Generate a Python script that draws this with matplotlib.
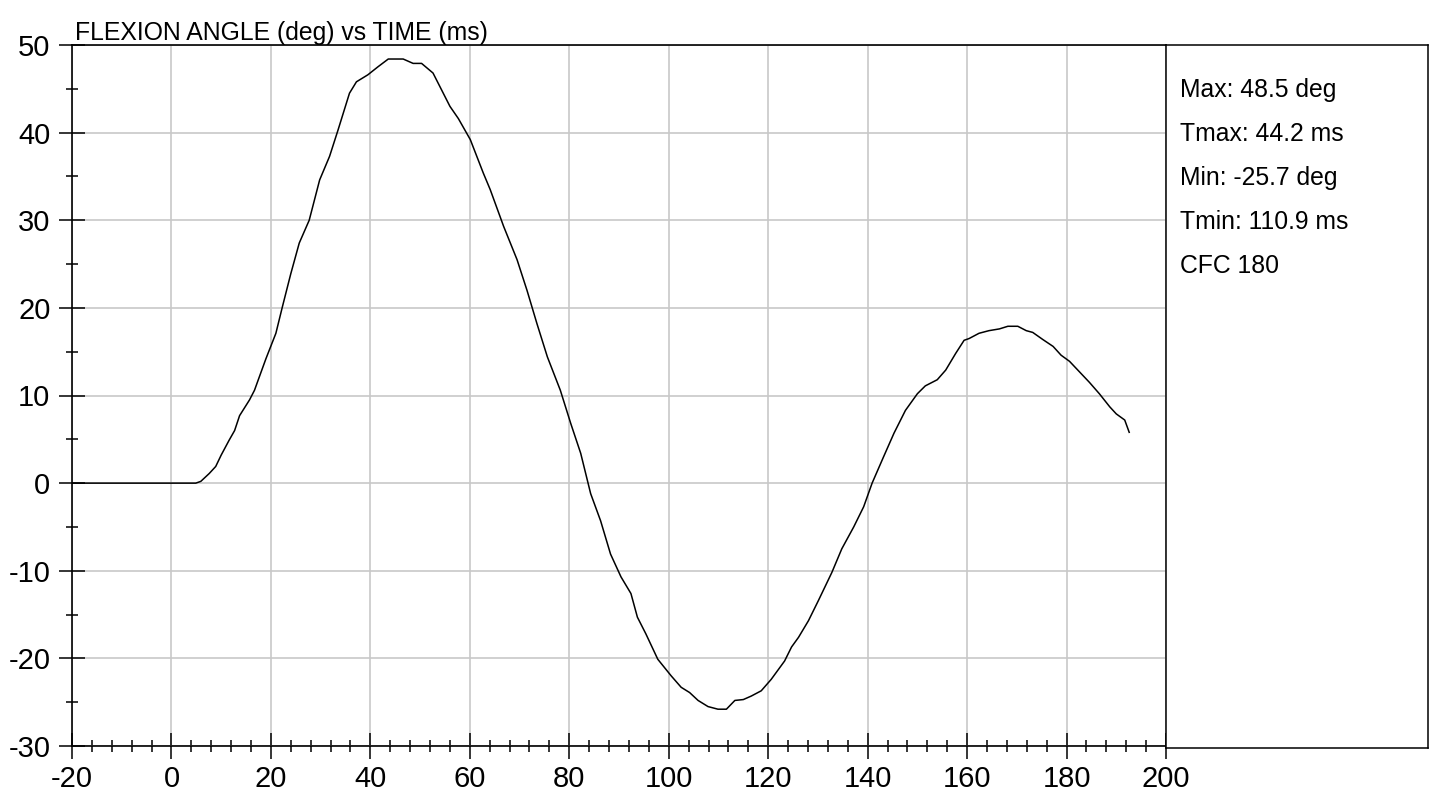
import numpy as np
import matplotlib
matplotlib.use('Agg')
import matplotlib.pyplot as plt
from matplotlib.ticker import MultipleLocator

plt.rcParams['font.family'] = ['Liberation Sans', 'DejaVu Sans']
plt.rcParams['axes.unicode_minus'] = False

# time (ms) and flexion angle (deg)
time_ms = [-20, 0, 4.9, 5.9, 7.6, 8.9, 10.0, 11.6, 12.7, 13.7, 15.7, 16.7, 17.4,
           19.0, 21.0, 22.3, 24.0, 25.7, 27.7, 29.8, 31.8, 33.5, 35.8, 37.2, 39.5,
           41.5, 43.6, 46.6, 48.6, 50.3, 52.6, 54.3, 56.0, 57.7, 60.1, 62.7, 64.1,
           66.8, 69.5, 71.5, 73.5, 75.6, 78.2, 80.3, 82.3, 84.3, 86.3, 88.3, 90.4,
           92.4, 93.7, 95.4, 97.8, 100.5, 102.5, 104.2, 105.9, 107.9, 109.9, 111.6,
           113.3, 115.0, 116.6, 118.6, 120.6, 123.3, 124.7, 126.1, 128.1, 130.1,
           132.8, 134.8, 137.2, 139.2, 140.9, 143.2, 145.3, 147.6, 150.0, 151.6,
           154.0, 155.7, 157.7, 159.4, 160.4, 162.4, 164.4, 166.5, 168.2, 170.2,
           171.9, 173.2, 175.2, 177.3, 178.9, 180.6, 182.6, 184.6, 186.6, 188.7,
           190.0, 191.7, 192.6]
angle_deg = [0, 0, 0, 0.2, 1.1, 1.9, 3.2, 4.9, 6.0, 7.7, 9.5, 10.6, 11.7,
             14.2, 17.1, 20.1, 23.9, 27.4, 30.0, 34.6, 37.3, 40.3, 44.5, 45.8, 46.6,
             47.5, 48.4, 48.4, 47.9, 47.9, 46.8, 44.9, 43.0, 41.6, 39.2, 35.4, 33.5,
             29.3, 25.5, 22.0, 18.2, 14.4, 10.6, 6.8, 3.4, -1.2, -4.3, -8.1, -10.7,
             -12.6, -15.3, -17.2, -20.1, -22.0, -23.3, -23.9, -24.8, -25.5, -25.8, -25.8,
             -24.8, -24.7, -24.3, -23.7, -22.4, -20.3, -18.7, -17.6, -15.7, -13.4,
             -10.2, -7.5, -5.0, -2.7, 0.0, 3.0, 5.7, 8.3, 10.2, 11.1,
             11.8, 12.9, 14.8, 16.3, 16.5, 17.1, 17.4, 17.6, 17.9, 17.9,
             17.4, 17.2, 16.4, 15.6, 14.6, 13.9, 12.7, 11.5, 10.2, 8.7,
             7.9, 7.2, 5.8]

title = 'FLEXION ANGLE (deg) vs TIME (ms)'
stats = ['Max: 48.5 deg', 'Tmax: 44.2 ms', 'Min: -25.7 deg', 'Tmin: 110.9 ms', 'CFC 180']

W, H = 1433, 797
fig = plt.figure(figsize=(W / 100, H / 100), dpi=100)
ax = fig.add_axes([72 / W, 1 - 746 / H, (1166 - 72) / W, (746 - 45) / H])
panel = fig.add_axes([1166 / W, 1 - 748 / H, (1428 - 1166) / W, (748 - 45) / H])

ax.plot(time_ms, angle_deg, color='black', lw=1.1)
ax.set_xlim(-20, 200)
ax.set_ylim(-30, 50)
ax.xaxis.set_major_locator(MultipleLocator(20))
ax.xaxis.set_minor_locator(MultipleLocator(4))
ax.yaxis.set_major_locator(MultipleLocator(10))
ax.yaxis.set_minor_locator(MultipleLocator(5))
ax.grid(True, which='major', color='#c8c8c8', lw=1.2)
ax.tick_params(which='major', direction='inout', length=19, width=1.1,
               labelsize=21, pad=4)
ax.tick_params(axis='y', which='major', pad=6)
ax.tick_params(which='minor', direction='inout', length=9, width=1.1)
for s in ['left', 'bottom', 'top']:
    ax.spines[s].set_linewidth(1.2)
ax.spines['right'].set_visible(False)
ax.set_title(title, loc='left', fontsize=17.8, pad=3, x=0.003)

panel.set_xticks([])
panel.set_yticks([])
for s in panel.spines.values():
    s.set_linewidth(1.1)
for i, txt in enumerate(stats):
    panel.text(14 / 262, 1 - (45 + 44 * i) / 703, txt, fontsize=17.8,
               va='center', ha='left', transform=panel.transAxes)

fig.savefig('out.png', dpi=100)
